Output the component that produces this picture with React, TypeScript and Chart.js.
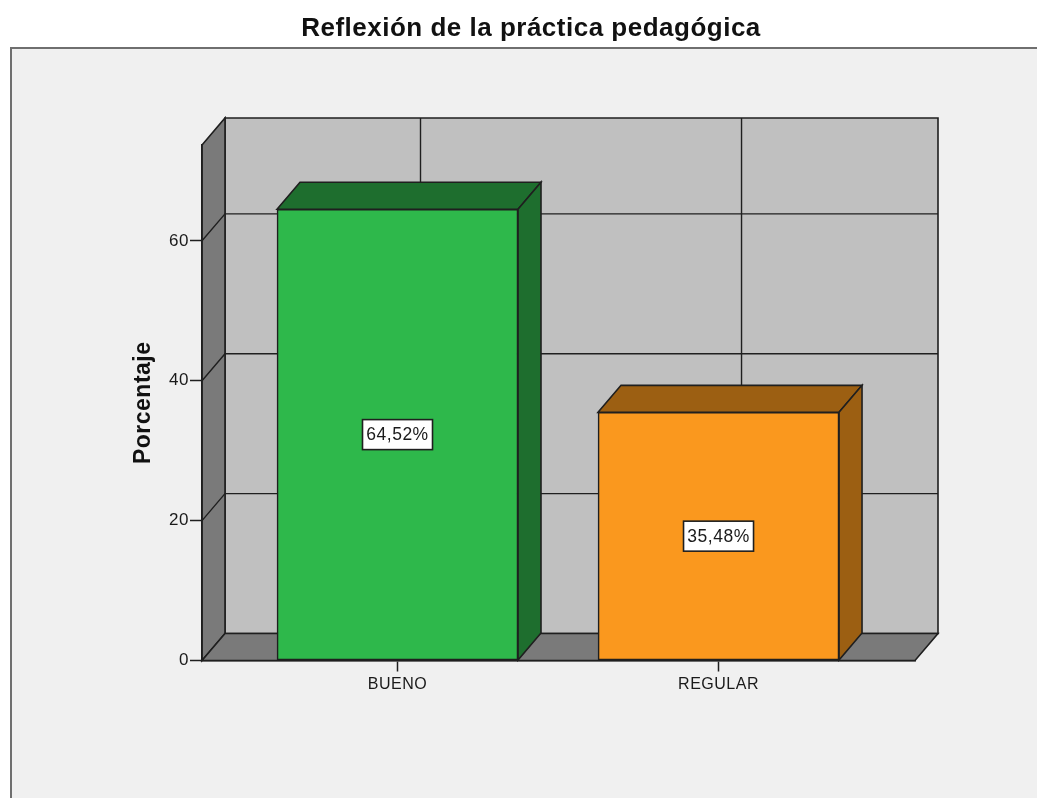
import React, { useEffect, useRef } from "react";
import { Chart, registerables } from "chart.js";

Chart.register(...registerables);

const chartTitle = "Reflexión de la práctica pedagógica";
const axisTitle = "Porcentaje";
const categories = ["BUENO", "REGULAR"];
const percentages = [64.52, 35.48];
const percentLabels = ["64,52%", "35,48%"];
const yTicks = [0, 20, 40, 60];

const FONT = "'Liberation Sans', Arial, sans-serif";
const INK = "#1f1f1f";
const frontColors = ["#2eb84b", "#fa981e"];
const darkColors = ["#1e6e2e", "#9c5f12"];
const DX = 23;
const DY = 27;

function poly(ctx: CanvasRenderingContext2D, pts: number[][], fill: string | null, width = 1.6) {
  ctx.beginPath();
  pts.forEach(([x, y], i) => (i ? ctx.lineTo(x, y) : ctx.moveTo(x, y)));
  ctx.closePath();
  if (fill) {
    ctx.fillStyle = fill;
    ctx.fill();
  }
  ctx.lineWidth = width;
  ctx.strokeStyle = INK;
  ctx.lineJoin = "miter";
  ctx.stroke();
}

const placeTitle = {
  id: "placeTitle",
  afterLayout(chart: any) {
    if (chart.titleBlock) {
      chart.titleBlock.left = 25;
      chart.titleBlock.right = chart.width;
    }
  },
};

const walls = {
  id: "walls",
  beforeDraw(chart: any) {
    const { ctx, chartArea: a, scales } = chart;
    const { x, y } = scales;
    ctx.letterSpacing = "0.5px";
    ctx.save();
    ctx.fillStyle = "#ffffff";
    ctx.fillRect(0, 0, chart.width, chart.height);
    ctx.fillStyle = "#f0f0f0";
    ctx.fillRect(11, 48, chart.width, chart.height);
    ctx.fillStyle = "#6f6f6f";
    ctx.fillRect(10, 47, chart.width, 2);
    ctx.fillRect(10, 47, 2, chart.height);

    poly(ctx, [[a.left + DX, a.top - DY], [a.right + DX, a.top - DY], [a.right + DX, a.bottom - DY], [a.left + DX, a.bottom - DY]], "#c0c0c0");
    poly(ctx, [[a.left, a.top], [a.left + DX, a.top - DY], [a.left + DX, a.bottom - DY], [a.left, a.bottom]], "#7a7a7a");
    poly(ctx, [[a.left, a.bottom], [a.left + DX, a.bottom - DY], [a.right + DX, a.bottom - DY], [a.right, a.bottom]], "#7a7a7a");

    ctx.strokeStyle = INK;
    ctx.lineWidth = 1.4;
    yTicks.slice(1).forEach((v) => {
      const py = y.getPixelForValue(v);
      ctx.beginPath();
      ctx.moveTo(a.left, py);
      ctx.lineTo(a.left + DX, py - DY);
      ctx.lineTo(a.right + DX, py - DY);
      ctx.stroke();
    });
    categories.forEach((_, i) => {
      const px = x.getPixelForValue(i) + DX;
      ctx.beginPath();
      ctx.moveTo(px, a.top - DY);
      ctx.lineTo(px, a.bottom - DY);
      ctx.stroke();
    });
    ctx.restore();
  },
};

const barDepth = {
  id: "barDepth",
  beforeDatasetsDraw(chart: any) {
    const { ctx } = chart;
    ctx.save();
    chart.getDatasetMeta(0).data.forEach((bar: any, i: number) => {
      const l = bar.x - bar.width / 2;
      const r = bar.x + bar.width / 2;
      poly(ctx, [[l, bar.y], [l + DX, bar.y - DY], [r + DX, bar.y - DY], [r, bar.y]], darkColors[i]);
      poly(ctx, [[r, bar.y], [r + DX, bar.y - DY], [r + DX, bar.base - DY], [r, bar.base]], darkColors[i]);
    });
    ctx.restore();
  },
};

const valueLabels = {
  id: "valueLabels",
  afterDatasetsDraw(chart: any) {
    const { ctx } = chart;
    ctx.save();
    chart.getDatasetMeta(0).data.forEach((bar: any, i: number) => {
      const cy = (bar.y + bar.base) / 2;
      const w = 70;
      const h = 30;
      ctx.fillStyle = "#ffffff";
      ctx.fillRect(bar.x - w / 2, cy - h / 2, w, h);
      ctx.strokeStyle = INK;
      ctx.lineWidth = 1.6;
      ctx.strokeRect(bar.x - w / 2, cy - h / 2, w, h);
      ctx.fillStyle = "#1a1a1a";
      ctx.font = `17.5px ${FONT}`;
      ctx.textAlign = "center";
      ctx.textBaseline = "middle";
      ctx.fillText(percentLabels[i], bar.x, cy + 1);
    });
    ctx.restore();
  },
};

export default function App() {
  const ref = useRef<HTMLCanvasElement>(null);
  useEffect(() => {
    if (!ref.current) return;
    const chart = new Chart(ref.current, {
      type: "bar",
      data: {
        datasets: [
          {
            data: percentages.map((v, i) => ({ x: i, y: v })),
            backgroundColor: frontColors,
            borderColor: INK,
            borderWidth: 1.6,
            borderSkipped: false,
            barThickness: 241,
          },
        ],
      },
      options: {
        responsive: false,
        animation: false,
        devicePixelRatio: 1,
        layout: { padding: { left: 0, right: 122, top: 0, bottom: 0 } },
        plugins: {
          legend: { display: false },
          tooltip: { enabled: false },
          title: {
            display: true,
            text: chartTitle,
            color: "#111111",
            font: { family: FONT, size: 26, weight: "bold" },
            padding: { top: 13.4, bottom: 100.4 },
          },
        },
        scales: {
          x: {
            type: "linear",
            offset: false,
            min: -0.609,
            max: 1.612,
            afterBuildTicks: (s: any) => {
              s.ticks = categories.map((_, i) => ({ value: i }));
            },
            afterFit: (s: any) => {
              s.height = 137.5;
            },
            grid: { offset: false, drawOnChartArea: false, tickLength: 11, tickColor: INK, tickWidth: 1.5 },
            border: { color: INK, width: 1.6 },
            ticks: {
              autoSkip: false,
              maxRotation: 0,
              padding: 3,
              color: "#1a1a1a",
              font: { family: FONT, size: 16 },
              callback: (v: any) => categories[v],
            },
          },
          y: {
            min: 0,
            max: 73.7,
            afterFit: (s: any) => {
              s.width = 202;
            },
            grid: { drawOnChartArea: false, tickLength: 12, tickColor: INK, tickWidth: 1.5 },
            border: { color: INK, width: 1.6 },
            title: {
              display: true,
              text: axisTitle,
              color: "#111111",
              font: { family: FONT, size: 23, weight: "bold" },
              padding: { top: 130, bottom: 0 },
            },
            ticks: {
              stepSize: 20,
              includeBounds: false,
              padding: 1,
              color: "#1a1a1a",
              font: { family: FONT, size: 17 },
            },
          },
        },
      },
      plugins: [placeTitle, walls, barDepth, valueLabels],
    } as any);
    return () => chart.destroy();
  }, []);
  return (
    <div style={{ position: "absolute", left: 0, top: 0, width: 1037, height: 798 }}>
      <canvas ref={ref} width={1037} height={798} style={{ display: "block" }} />
    </div>
  );
}
